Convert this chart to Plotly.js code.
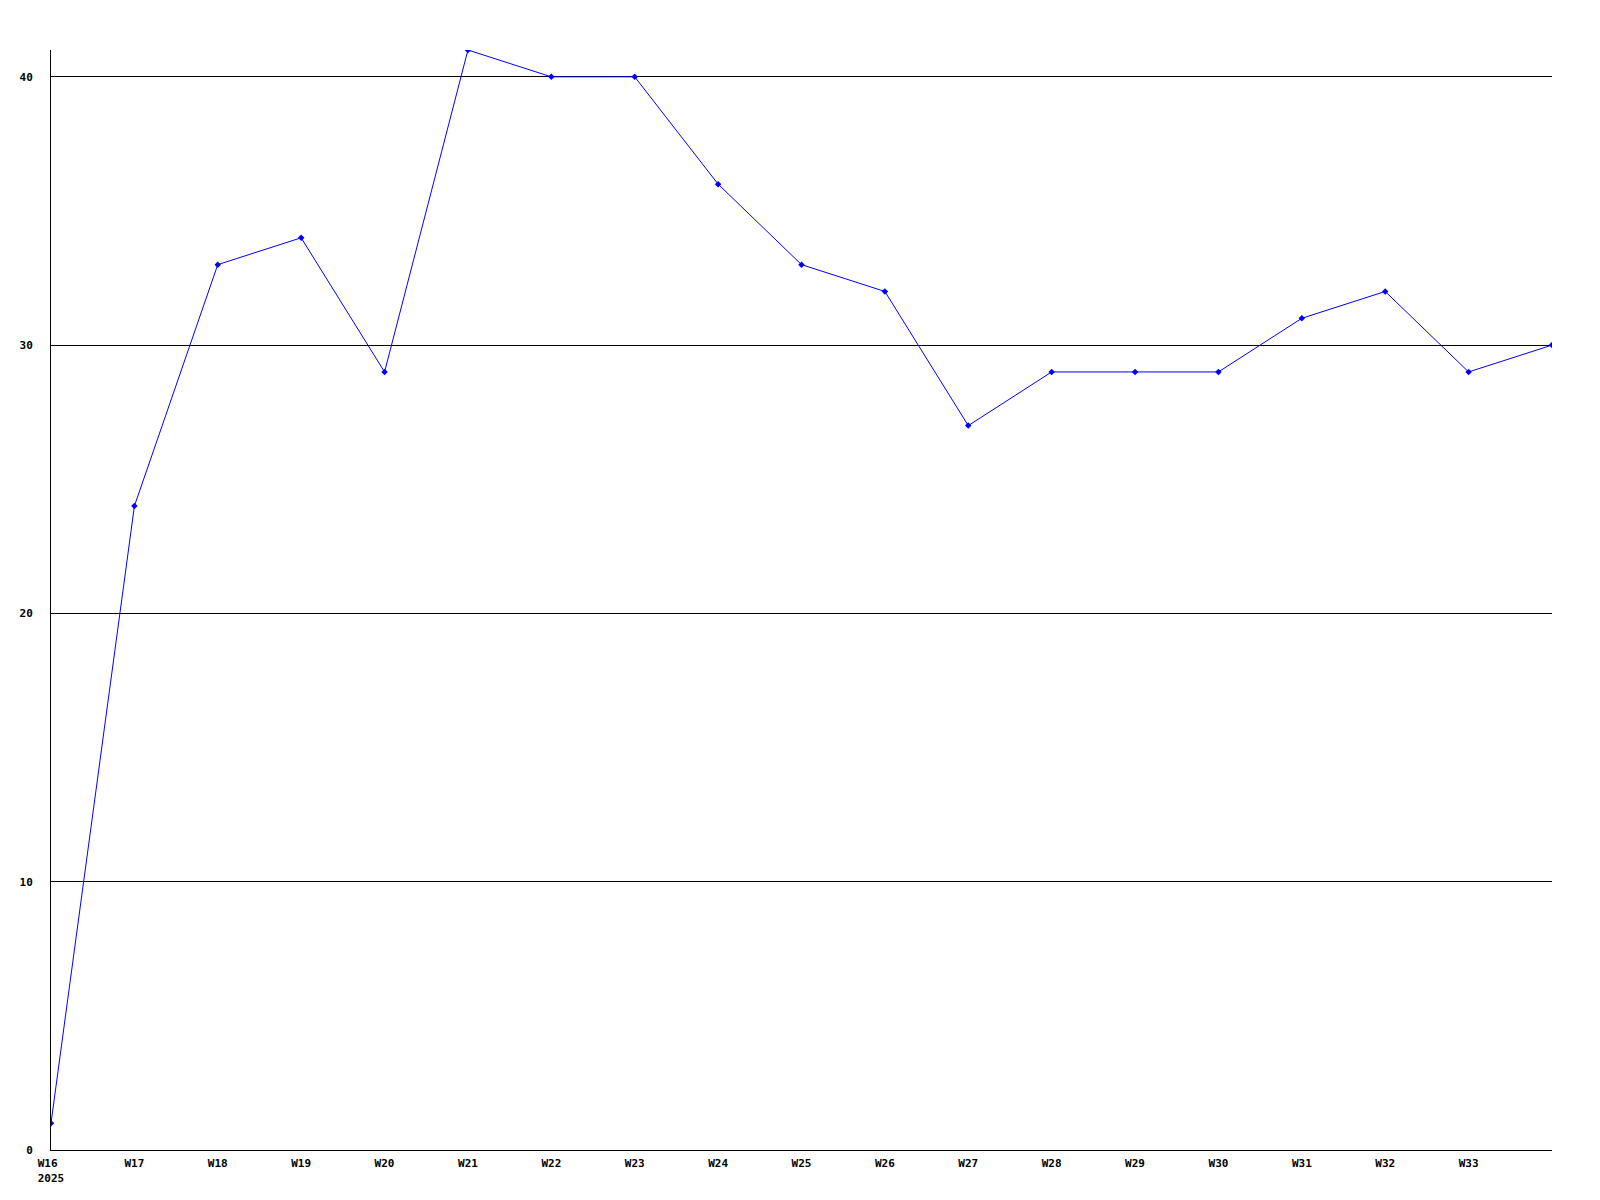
<!DOCTYPE html>
<html>
<head>
<meta charset="utf-8">
<script src="https://cdn.plot.ly/plotly-3.0.1.min.js"></script>
<style>html,body{margin:0;padding:0;background:#fff;}#chart{width:1600px;height:1200px;}</style>
</head>
<body>
<div id="chart"></div>
<script>
const weeks = ['W16','W17','W18','W19','W20','W21','W22','W23','W24','W25','W26','W27','W28','W29','W30','W31','W32','W33','W34'];
const values = [1,24,33,34,29,41,40,40,36,33,32,27,29,29,29,31,32,29,30];
const tickWeeks = ['W16','W17','W18','W19','W20','W21','W22','W23','W24','W25','W26','W27','W28','W29','W30','W31','W32','W33'];
const tickLabels = ['W16 <br>2025','W17','W18','W19','W20','W21','W22','W23','W24','W25','W26','W27','W28','W29','W30','W31','W32','W33'];
const yTicks = [0,10,20,30,40];

const font = {family: 'DejaVu Sans Mono, monospace', size: 11, color: '#000', weight: 'bold'};

Plotly.newPlot('chart', [{
  x: weeks,
  y: values,
  type: 'scatter',
  mode: 'lines+markers',
  line: {color: '#0000ff', width: 1},
  marker: {color: '#0000ff', size: 5, symbol: 'diamond'},
  hoverinfo: 'skip'
}], {
  width: 1600,
  height: 1200,
  margin: {l: 51, r: 48, t: 50, b: 50, pad: 0},
  paper_bgcolor: '#fff',
  plot_bgcolor: '#fff',
  showlegend: false,
  font: font,
  xaxis: {
    type: 'category',
    range: [0, weeks.length - 1],
    tickvals: tickWeeks,
    ticktext: tickLabels,
    showgrid: false,
    zeroline: false,
    showline: true,
    linecolor: '#000',
    linewidth: 1,
    ticks: '',
    ticklabelstandoff: 3,
    tickfont: font,
    fixedrange: true
  },
  yaxis: {
    range: [0, 41],
    tickvals: yTicks,
    showgrid: true,
    gridcolor: '#000',
    gridwidth: 1,
    zeroline: false,
    showline: true,
    linecolor: '#000',
    linewidth: 1,
    ticks: '',
    ticklabelstandoff: 15,
    tickfont: font,
    fixedrange: true
  }
}, {staticPlot: true, displayModeBar: false});
</script>
</body>
</html>
